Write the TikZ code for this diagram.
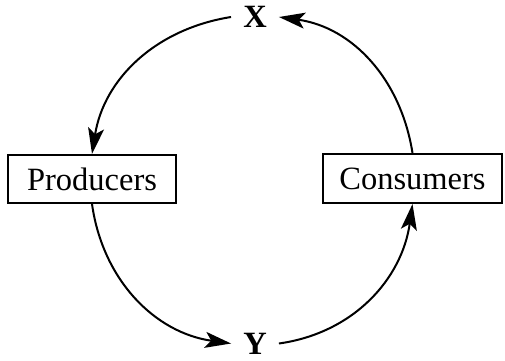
\documentclass[tikz,border=0pt]{standalone}
\usepackage{fontspec}
\setmainfont{Liberation Serif}
\usetikzlibrary{arrows.meta}

\tikzset{
  sector/.style={draw, line width=2pt, inner sep=0pt, font=\fontsize{32.5}{38}\selectfont},
  letter/.style={inner xsep=12pt, inner ysep=2pt, font=\fontsize{32.5}{38}\selectfont\bfseries},
  flow/.style={line width=2pt, -{Stealth[length=26pt,width=16pt,inset=6pt]}}
}

\begin{document}
\begin{tikzpicture}[x=1pt,y=1pt]
		\useasboundingbox (0,0) rectangle (505,360);

		% Top and bottom letters
		\node[letter] (X) at (255,343) {X};
		\node[letter] (Y) at (255,16.5) {Y};

		% The two boxes
		\node[sector, minimum width=168pt, minimum height=48pt] (prod) at (92,181) {Producers};
		\node[sector, minimum width=179pt, minimum height=49pt] (cons) at (412.5,181.5) {Consumers};

		% Circular flow
		\draw[flow] (X.west) to[out=189, in=81] (prod.north);
		\draw[flow] (prod.south) to[out=278, in=172] (Y.west);
		\draw[flow] (Y.east) to[out=8, in=262] (cons.south);
		\draw[flow] (cons.north) to[out=99, in=352] (X.east);
	\end{tikzpicture}
\end{document}
